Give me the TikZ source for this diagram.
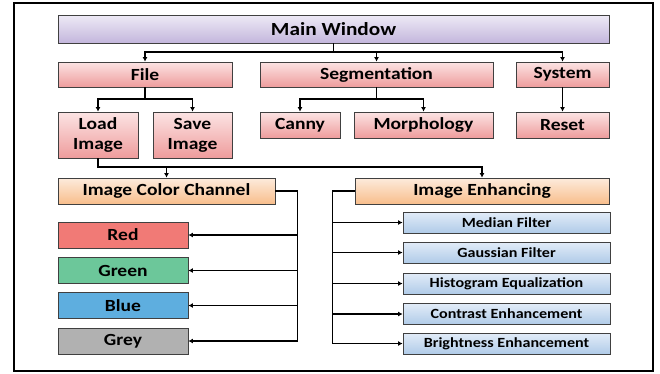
\documentclass[tikz,border=0pt]{standalone}
\usepackage{fontspec}
\setmainfont{Carlito}[FakeStretch=1.15]
\usepackage{tikz}
\usetikzlibrary{arrows.meta, positioning}

\definecolor{lavtop}{HTML}{EEEAF6}
\definecolor{lavbot}{HTML}{C3B6DC}
\definecolor{pinktop}{HTML}{FCE4E4}
\definecolor{pinkbot}{HTML}{EE9C9C}
\definecolor{orgtop}{HTML}{FDEBDC}
\definecolor{orgbot}{HTML}{F8BE8C}
\definecolor{skytop}{HTML}{E2ECF8}
\definecolor{skybot}{HTML}{B0CBE8}
\definecolor{chred}{HTML}{F17A76}
\definecolor{chgreen}{HTML}{6CC79A}
\definecolor{chblue}{HTML}{5EAEDF}
\definecolor{chgrey}{HTML}{B1B1B1}

\tikzset{
  box/.style={draw=black!75, line width=0.8pt, inner sep=0pt, align=center,
    font=\fontsize{17}{20}\selectfont\bfseries},
  menu/.style={box, top color=pinktop, bottom color=pinkbot},
  group/.style={box, top color=orgtop, bottom color=orgbot},
  chan/.style={box, fill=#1, minimum width=130pt, minimum height=26pt},
  filt/.style={box, top color=skytop, bottom color=skybot, minimum width=207pt,
    minimum height=21pt, font=\fontsize{14}{16}\selectfont\bfseries},
  link/.style={draw, line width=1.9pt, -{Latex[length=4.5pt,width=5pt]}},
  thin link/.style={link, line width=1.6pt}
}

\begin{document}
\begin{tikzpicture}[x=1pt, y=-1pt]
  \useasboundingbox (0,0) rectangle (660,373);
  \draw[line width=1.4pt] (14,3) rectangle (653,371);

  % top level
  \node[box, top color=lavtop, bottom color=lavbot, minimum width=551pt, minimum height=28pt,
    font=\fontsize{18.5}{22}\selectfont\bfseries] (main) at (333.5, 29) {Main Window};

  % menus
  \node[menu, minimum width=174pt, minimum height=25pt] (file) at (145, 74.5) {File};
  \node[menu, minimum width=233pt, minimum height=25pt] (seg) at (376.5, 74.5) {Segmentation};
  \node[menu, minimum width=93pt, minimum height=25pt] (sys) at (562.5, 74.5) {System};

  \node[menu, minimum width=80pt, minimum height=46pt] (load) at (98, 135) {Load\\Image};
  \node[menu, minimum width=79pt, minimum height=46pt] (save) at (192.5, 135) {Save\\Image};
  \node[menu, minimum width=80pt, minimum height=26pt] (canny) at (300, 125) {Canny};
  \node[menu, minimum width=139pt, minimum height=26pt] (morph) at (423.5, 125) {Morphology};
  \node[menu, minimum width=93pt, minimum height=26pt] (reset) at (562.5, 125) {Reset};

  \draw[link] (main.south) -- ++(0,9) -| (file);
  \draw[link] (main.south) -- ++(0,9) -| (seg);
  \draw[link] (main.south) -- ++(0,9) -| (sys);
  \draw[link] (file.south) -- ++(0,12) -| (load);
  \draw[link] (file.south) -- ++(0,12) -| (save);
  \draw[link] (seg.south) -- ++(0,12) -| (canny);
  \draw[link] (seg.south) -- ++(0,12) -| (morph);
  \draw[link] (sys) -- (reset);

  % processing groups
  \node[group, minimum width=217pt, minimum height=26pt] (color) at (166.5, 191) {Image Color Channel};
  \node[group, minimum width=254pt, minimum height=26pt] (enh) at (482, 191) {Image Enhancing};

  \draw[link] (load.south) -- ++(0,9) -| (color);
  \draw[link] (load.south) -- ++(0,9) -| (enh);

  % colour channels
  \node[chan=chred] (red) at (123, 235) {Red};
  \node[chan=chgreen] (green) at (123, 270.5) {Green};
  \node[chan=chblue] (blue) at (123, 305.5) {Blue};
  \node[chan=chgrey] (grey) at (123, 341) {Grey};

  \foreach \c in {red, green, blue, grey}
    \draw[thin link] (color.east) -- ++(22,0) |- (\c);

  % enhancing filters
  \node[filt] (median) at (506.5, 222.5) {Median Filter};
  \node[filt] (gauss) at (506.5, 252.5) {Gaussian Filter};
  \node[filt] (hist) at (506.5, 283.5) {Histogram Equalization};
  \node[filt] (contrast) at (506.5, 314) {Contrast Enhancement};
  \node[filt] (bright) at (506.5, 343.5) {Brightness Enhancement};

  \foreach \f in {median, gauss, hist, contrast, bright}
    \draw[thin link] (enh.west) -- ++(-22,0) |- (\f);
\end{tikzpicture}
\end{document}
